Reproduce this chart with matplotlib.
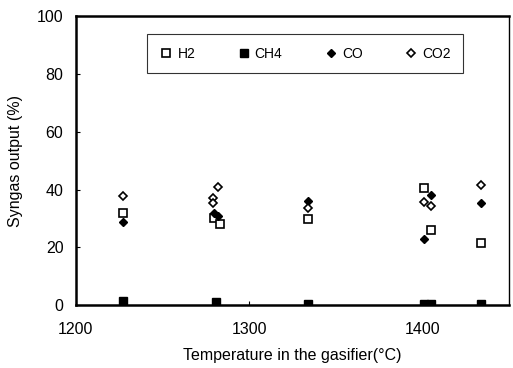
import matplotlib
matplotlib.use("Agg")
import matplotlib.pyplot as plt

plt.rcParams["font.family"] = ["Liberation Sans", "DejaVu Sans"]

h2_t = [1227, 1280, 1283, 1334, 1401, 1405, 1434]
h2_v = [31.8, 30.0, 28.0, 29.8, 40.5, 26.0, 21.5]

ch4_t = [1227, 1281, 1334, 1401, 1405, 1434]
ch4_v = [1.5, 1.0, 0.5, 0.3, 0.3, 0.2]

co_t = [1227, 1280, 1282, 1334, 1405, 1401, 1434]
co_v = [28.7, 32.0, 31.0, 36.1, 38.0, 22.8, 35.3]

co2_t = [1227, 1282, 1279, 1279, 1334, 1401, 1405, 1434]
co2_v = [37.7, 40.8, 37.0, 35.3, 33.6, 35.6, 34.3, 41.5]

xticks = [1200, 1300, 1400]
yticks = [0, 20, 40, 60, 80, 100]

fig = plt.figure(figsize=(5.13, 3.68), dpi=100)
ax = fig.add_axes([0.148, 0.171, 0.844, 0.785])

ax.plot(h2_t, h2_v, "s", mfc="white", mec="black", mew=1.2, ms=5.5, ls="none", label="H2")
ax.plot(ch4_t, ch4_v, "s", color="black", ms=5.5, ls="none", label="CH4")
ax.plot(co_t, co_v, "D", color="black", ms=4.5, ls="none", label="CO")
ax.plot(co2_t, co2_v, "D", mfc="white", mec="black", mew=1.2, ms=4.5, ls="none", label="CO2")

ax.set_xlim(1200, 1450)
ax.set_ylim(0, 100)
ax.set_xticks(xticks)
ax.set_yticks(yticks)
ax.tick_params(direction="in", length=3, labelsize=11.5, width=0.8)
ax.tick_params(axis="y", pad=9)
ax.tick_params(axis="x", pad=12)
for side in ["left", "bottom", "top"]:
    ax.spines[side].set_linewidth(1.8)
ax.spines["right"].set_linewidth(1.0)

ax.set_xlabel("Temperature in the gasifier(°C)", fontsize=11.5, labelpad=8)
ax.set_ylabel("Syngas output (%)", fontsize=11.5, labelpad=10)

leg = ax.legend(loc="center", bbox_to_anchor=(0.164, 0.796, 0.730, 0.149),
                mode="expand", ncol=4, fontsize=10, frameon=True, fancybox=False,
                edgecolor="black", handletextpad=0.3, borderpad=0.9,
                handlelength=1.0, borderaxespad=0)
leg.get_frame().set_linewidth(0.8)

fig.savefig("out.png", dpi=100)
